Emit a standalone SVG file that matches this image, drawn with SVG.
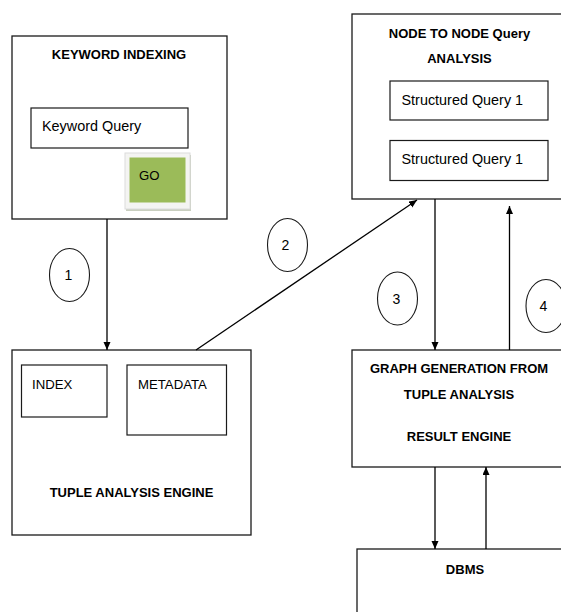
<svg xmlns="http://www.w3.org/2000/svg" width="561" height="612" viewBox="0 0 561 612">
<style>
.box{fill:#fff;stroke:#1a1a1a;stroke-width:1.3}
.sub{fill:#fff;stroke:#1a1a1a;stroke-width:1.2}
.t{font-family:"Liberation Sans",Arial,sans-serif;font-size:14.4px;fill:#000}
.u{font-family:"Liberation Sans",Arial,sans-serif;font-size:13.2px;fill:#000}
.b{font-family:"Liberation Sans",Arial,sans-serif;font-size:13px;font-weight:bold;fill:#000;text-anchor:middle}
.c{fill:#fff;stroke:#1a1a1a;stroke-width:1.1}
.n{font-family:"Liberation Sans",Arial,sans-serif;font-size:14px;fill:#000;text-anchor:middle}
.con{stroke:#000;stroke-width:1.3;fill:none;marker-end:url(#ah)}
</style>
<defs>
<marker id="ah" markerUnits="userSpaceOnUse" markerWidth="8" markerHeight="8" refX="8" refY="3.5" orient="auto">
<path d="M0,0 L8,3.5 L0,7 z" fill="#000"/>
</marker>
</defs>
<rect width="561" height="612" fill="#fff"/>
<g id="keyword-indexing">
<rect class="box" x="12" y="36" width="215" height="183"/>
<text class="b" x="119" y="59">KEYWORD INDEXING</text>
<rect class="sub" x="31" y="108" width="157" height="40"/>
<text class="t" x="42" y="131">Keyword Query</text>
<g id="go-button">
<rect x="126" y="155" width="65" height="56" fill="#c9cfbf"/>
<rect x="125" y="153" width="65" height="56" fill="#f4f4f2" stroke="#dcdcdc" stroke-width="1"/>
<rect x="129.5" y="157.5" width="56" height="45" fill="#9bbb59"/>
<text class="u" x="139" y="180">GO</text>
</g>
</g>
<g id="node-to-node">
<rect class="box" x="352" y="14" width="220" height="185"/>
<text class="b" x="459.5" y="38">NODE TO NODE Query</text>
<text class="b" x="459.5" y="63">ANALYSIS</text>
<rect class="sub" x="390" y="81" width="158" height="39"/>
<text class="t" x="401.5" y="104.5">Structured Query 1</text>
<rect class="sub" x="390" y="140.5" width="158" height="40"/>
<text class="t" x="401.5" y="164">Structured Query 1</text>
</g>
<g id="tuple-analysis-engine">
<rect class="box" x="12" y="350" width="239" height="185"/>
<rect class="sub" x="21.5" y="365" width="85.5" height="52"/>
<text class="u" x="32" y="389">INDEX</text>
<rect class="sub" x="127" y="365" width="99.5" height="70"/>
<text class="u" x="138" y="389">METADATA</text>
<text class="b" x="131.5" y="497">TUPLE ANALYSIS ENGINE</text>
</g>
<g id="graph-generation">
<rect class="box" x="352" y="350" width="220" height="117"/>
<text class="b" x="459" y="372.5">GRAPH GENERATION FROM</text>
<text class="b" x="459" y="399">TUPLE ANALYSIS</text>
<text class="b" x="459" y="441">RESULT ENGINE</text>
</g>
<g id="dbms">
<rect class="box" x="357" y="549" width="215" height="80"/>
<text class="b" x="465" y="573.5">DBMS</text>
</g>
<g id="step-labels">
<g id="step1"><ellipse class="c" cx="69.5" cy="275" rx="20" ry="26.5"/><text class="n" x="68.5" y="280">1</text></g>
<g id="step2"><ellipse class="c" cx="287.5" cy="245" rx="20" ry="26.5"/><text class="n" x="285.5" y="250">2</text></g>
<g id="step3"><ellipse class="c" cx="397.5" cy="298.5" rx="20" ry="26.5"/><text class="n" x="396.5" y="303.5">3</text></g>
<g id="step4"><ellipse class="c" cx="546" cy="306" rx="20" ry="26.5"/><text class="n" x="543.5" y="311">4</text></g>
</g>
<g id="connectors">
<line class="con" x1="107" y1="219" x2="107" y2="350"/>
<line class="con" x1="196" y1="350" x2="417" y2="200"/>
<line class="con" x1="435" y1="199" x2="435" y2="350"/>
<line class="con" x1="509.5" y1="350" x2="509.5" y2="206"/>
<line class="con" x1="435" y1="467" x2="435" y2="549"/>
<line class="con" x1="486" y1="549" x2="486" y2="467"/>
</g>
</svg>
